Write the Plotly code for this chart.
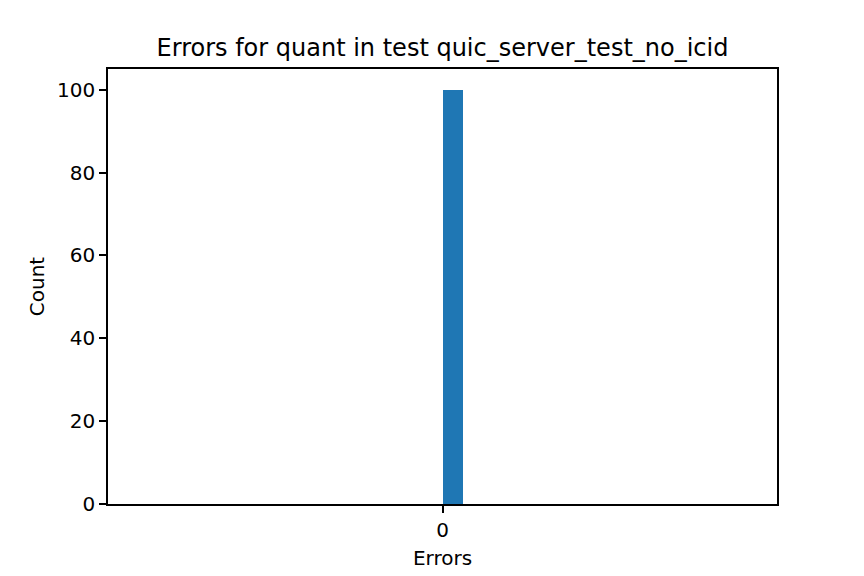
import plotly.graph_objects as go

# Histogram data (bin left edges, counts, bin width)
bin_left = [0.0]
counts = [100]
bin_width = 1 / 30
x_ticks = [0]
x_tick_labels = ["0"]
y_ticks = [0, 20, 40, 60, 80, 100]

title_text = "Errors for quant in test quic_server_test_no_icid"

fig = go.Figure()
fig.add_trace(go.Bar(
    x=bin_left, y=counts, width=[bin_width] * len(bin_left), offset=0,
    marker=dict(color="#1f77b4", line=dict(width=0)),
))

font_family = "DejaVu Sans"
# page body has an 8px margin, compensate in figure margins
fig.update_layout(
    width=864, height=576,
    paper_bgcolor="white", plot_bgcolor="white",
    margin=dict(l=100, r=95, t=61, b=80, autoexpand=False),
    showlegend=False,
    bargap=0,
    font=dict(family=font_family, size=20, color="black"),
    title=dict(text=title_text, x=(442.5 - 8) / 864, xanchor="center",
               y=1 - 40 / 576, yanchor="middle", yref="container",
               font=dict(size=24, family=font_family, color="black")),
    xaxis=dict(range=[-0.55, 0.55], tickvals=x_ticks, ticktext=x_tick_labels,
               showgrid=False, zeroline=False, showline=True, mirror=True,
               linecolor="black", linewidth=1.6, ticks="outside", ticklen=7,
               tickwidth=1.6, tickcolor="black",
               title=dict(text="Errors", standoff=10, font=dict(size=20))),
    yaxis=dict(range=[0, 105], tickvals=y_ticks,
               showgrid=False, zeroline=False, showline=True, mirror=True,
               linecolor="black", linewidth=1.6, ticks="outside", ticklen=7,
               tickwidth=1.6, tickcolor="black",
               title=dict(text="Count", standoff=7, font=dict(size=20))),
)

fig.write_html("out.html")
